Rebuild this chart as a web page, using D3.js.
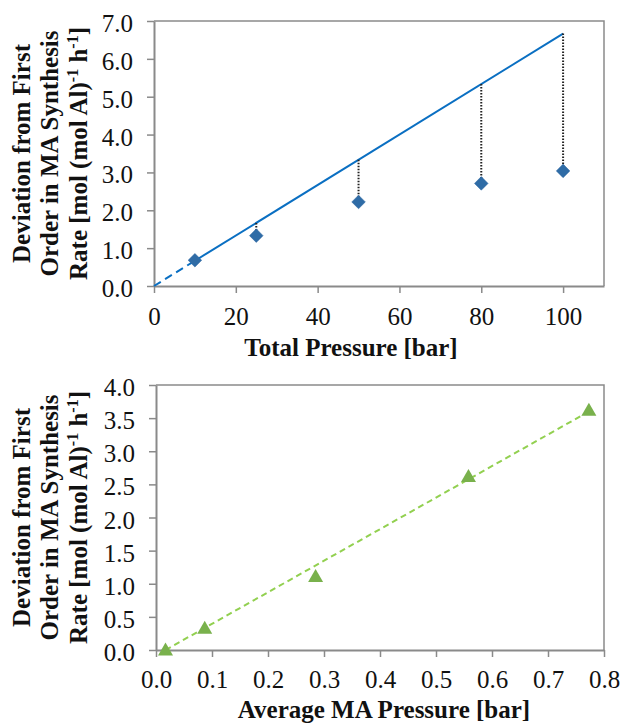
<!DOCTYPE html>
<html><head><meta charset="utf-8">
<script src="https://cdn.jsdelivr.net/npm/d3@7"></script>
<style>body{margin:0;background:#fff} svg{display:block} svg text{font-family:"Liberation Serif","Times New Roman",serif !important;}</style>
</head><body><script>
// ---- Top panel data ----
const totalPressure = [10, 25, 50, 80, 100];
const deviationTotal = [0.68, 1.33, 2.22, 2.71, 3.04];
const firstOrderX = [0, 10, 100];
const firstOrderY = [0, 0.667, 6.667];
const dropTop = [0.667, 1.667, 3.333, 5.333, 6.667];
const topXTicks = [0, 20, 40, 60, 80, 100];
const topYTicks = [0, 1, 2, 3, 4, 5, 6, 7];

// ---- Bottom panel data ----
const maPressure = [0.017, 0.087, 0.285, 0.558, 0.773];
const deviationMA = [0.0, 0.33, 1.11, 2.62, 3.62];
const trendX = [0.017, 0.773];
const trendY = [0.0, 3.6];
const botXTicks = [0, 0.1, 0.2, 0.3, 0.4, 0.5, 0.6, 0.7, 0.8];
const botYTicks = [0, 0.5, 1.0, 1.5, 2.0, 2.5, 3.0, 3.5, 4.0];

const FONT = "Liberation Serif";
const AXIS = "#8a8a8a";
const W = 622, H = 726;
const svg = d3.select("body").append("svg").attr("width", W).attr("height", H)
  .attr("font-family", FONT);

function panel(o) {
  const x = d3.scaleLinear().domain(o.xDomain).range([o.left, o.right]);
  const y = d3.scaleLinear().domain(o.yDomain).range([o.bottom, o.top]);
  const g = svg.append("g");
  g.append("path").attr("d", `M${o.left},${o.top}H${o.right}V${o.bottom}`)
    .attr("fill", "none").attr("stroke", AXIS).attr("stroke-width", 1.5);
  const xa = g.append("g").attr("transform", `translate(0,${o.bottom})`)
    .call(d3.axisBottom(x).tickValues(o.xTicks).tickFormat(o.xFmt).tickSize(7).tickSizeOuter(0));
  xa.attr("font-family", FONT);
  xa.select(".domain").attr("stroke", AXIS).attr("stroke-width", 2);
  xa.selectAll(".tick line").attr("stroke", AXIS).attr("stroke-width", 1.5);
  xa.selectAll(".tick text").attr("y", o.xLabelY).attr("dy", 0)
    .attr("font-size", 25).attr("fill", "#111").attr("font-family", FONT);
  const ya = g.append("g").attr("transform", `translate(${o.left},0)`)
    .call(d3.axisLeft(y).tickValues(o.yTicks).tickFormat(d3.format(".1f")).tickSize(7).tickSizeOuter(0));
  ya.attr("font-family", FONT);
  ya.select(".domain").attr("stroke", AXIS).attr("stroke-width", 2);
  ya.selectAll(".tick line").attr("stroke", AXIS).attr("stroke-width", 1.5);
  ya.selectAll(".tick text").attr("x", -21).attr("dy", "0.42em")
    .attr("font-size", 25).attr("fill", "#111").attr("font-family", FONT);
  g.append("text").attr("x", o.xTitleX).attr("y", o.xTitleY).attr("text-anchor", "middle")
    .attr("font-family", FONT)
    .attr("font-size", 25).attr("font-weight", "bold").attr("fill", "#111").text(o.xTitle);
  const cy = (o.top + o.bottom) / 2;
  const lines = [[["Deviation from First", false]], [["Order in MA Synthesis", false]],
    [["Rate [mol (mol Al)", false], ["-1", true], [" h", false], ["-1", true], ["]", false]]];
  const bx = [29.5, 58, 86.5];
  lines.forEach((parts, i) => {
    const t = g.append("text").attr("transform", `translate(${bx[i]},${cy}) rotate(-90)`)
      .attr("font-family", FONT)
      .attr("text-anchor", "middle").attr("font-size", 25).attr("font-weight", "bold").attr("fill", "#111");
    let up = false;
    parts.forEach(([s, sup]) => {
      const ts = t.append("tspan").text(s);
      if (sup && !up) { ts.attr("dy", -9).attr("font-size", 16); up = true; }
      else if (sup) { ts.attr("font-size", 16); }
      else if (up) { ts.attr("dy", 9); up = false; }
    });
  });
  return {g, x, y};
}

// ---- Top panel ----
const P1 = panel({left: 154, right: 604, top: 21, bottom: 286, xDomain: [0, 110], yDomain: [0, 7],
  xTicks: topXTicks, yTicks: topYTicks, xFmt: d3.format("d"), xLabelY: 39,
  xTitle: "Total Pressure [bar]", xTitleX: 351, xTitleY: 356});
const lineGen1 = d3.line().x(d => P1.x(d[0])).y(d => P1.y(d[1]));
const fo = firstOrderX.map((v, i) => [v, firstOrderY[i]]);
P1.g.append("path").attr("d", lineGen1(fo.slice(0, 2))).attr("fill", "none")
  .attr("stroke", "#0a6fc2").attr("stroke-width", 2).attr("stroke-dasharray", "8,5");
P1.g.append("path").attr("d", lineGen1(fo.slice(1))).attr("fill", "none")
  .attr("stroke", "#0a6fc2").attr("stroke-width", 2);
P1.g.selectAll(".drop").data(totalPressure).join("line")
  .attr("x1", d => P1.x(d)).attr("x2", d => P1.x(d))
  .attr("y1", (d, i) => P1.y(dropTop[i])).attr("y2", (d, i) => P1.y(deviationTotal[i]))
  .attr("stroke", "#222").attr("stroke-width", 2).attr("stroke-dasharray", "1.5,1.5");
P1.g.selectAll(".dia").data(totalPressure).join("path")
  .attr("d", d3.symbol(d3.symbolDiamond2, 118))
  .attr("transform", (d, i) => `translate(${P1.x(d)},${P1.y(deviationTotal[i])})`)
  .attr("fill", "#2f6ca6").attr("stroke", "#2a65a0").attr("stroke-width", 0.5);

// ---- Bottom panel ----
const P2 = panel({left: 156, right: 604, top: 385, bottom: 650, xDomain: [0, 0.8], yDomain: [0, 4],
  xTicks: botXTicks, yTicks: botYTicks, xFmt: d3.format(".1f"), xLabelY: 38,
  xTitle: "Average MA Pressure [bar]", xTitleX: 384, xTitleY: 718});
P2.g.append("path").attr("d", d3.line().x(d => P2.x(d[0])).y(d => P2.y(d[1]))(trendX.map((v, i) => [v, trendY[i]])))
  .attr("fill", "none").attr("stroke", "#92d050").attr("stroke-width", 2).attr("stroke-dasharray", "6,4");
P2.g.selectAll(".tri").data(maPressure).join("path")
  .attr("d", "M0,-7.5L7.5,5.5L-7.5,5.5Z")
  .attr("transform", (d, i) => `translate(${P2.x(d)},${P2.y(deviationMA[i])})`)
  .attr("fill", "#79b14c");
</script></body></html>
